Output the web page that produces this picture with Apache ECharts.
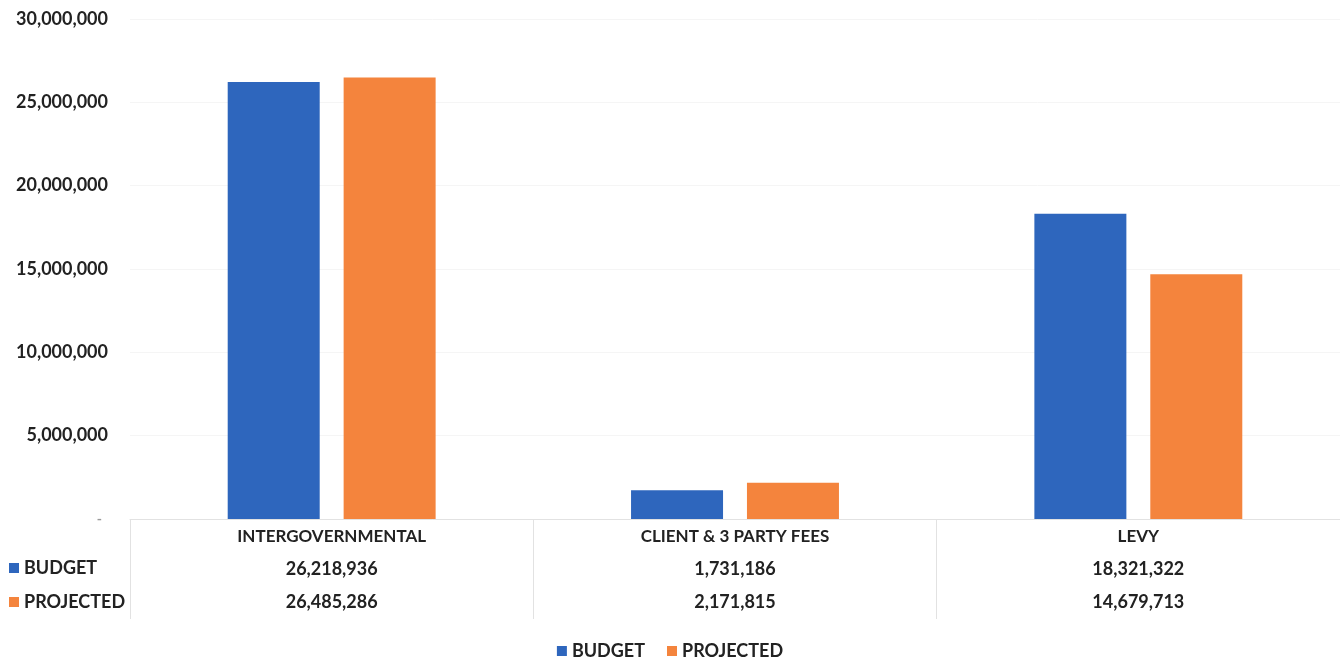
<!DOCTYPE html>
<html>
<head>
<meta charset="utf-8">
<script src="https://cdn.jsdelivr.net/npm/echarts@6/dist/echarts.min.js"></script>
<style>
  html, body { margin: 0; padding: 0; background: #fff; }
  #chart { width: 1340px; height: 660px; }
</style>
</head>
<body>
<div id="chart"></div>
<script>
const categories = ["INTERGOVERNMENTAL", "CLIENT & 3 PARTY FEES", "LEVY"];
const budget = [26218936, 1731186, 18321322];
const projected = [26485286, 2171815, 14679713];

const fmt = v => v.toLocaleString("en-US");
const textColor = "#222";
const font = "Lato";

const chart = echarts.init(document.getElementById("chart"));

chart.setOption({
  animation: false,
  textStyle: { fontFamily: font },
  grid: { left: 130, right: 0, top: 19, bottom: 141 },
  legend: [
    {
      data: ["BUDGET", "PROJECTED"],
      left: "center",
      top: 637,
      icon: "rect",
      itemWidth: 10,
      itemHeight: 10,
      itemGap: 22,
      selectedMode: false,
      textStyle: { fontSize: 18, fontWeight: "bold", color: textColor, fontFamily: font }
    },
    {
      data: ["BUDGET", "PROJECTED"],
      orient: "vertical",
      left: 4,
      top: 553,
      icon: "rect",
      itemWidth: 10,
      itemHeight: 10,
      itemGap: 14,
      selectedMode: false,
      textStyle: { fontSize: 18, fontWeight: "bold", color: textColor, fontFamily: font, lineHeight: 20 }
    }
  ],
  xAxis: {
    type: "category",
    data: categories,
    axisLine: { lineStyle: { color: "#e2e2e2" } },
    axisTick: { show: true, length: 100, lineStyle: { color: "#e2e2e2" } },
    axisLabel: {
      margin: 1,
      interval: 0,
      formatter: (value, i) =>
        "{c|" + value + "}\n{v|" + fmt(budget[i]) + "}\n{v|" + fmt(projected[i]) + "}",
      rich: {
        c: { fontSize: 17, fontWeight: "bold", color: textColor, lineHeight: 33, fontFamily: font },
        v: { fontSize: 18, fontWeight: "bold", color: textColor, lineHeight: 33, fontFamily: font }
      }
    }
  },
  yAxis: {
    type: "value",
    min: 0,
    max: 30000000,
    interval: 5000000,
    axisLine: { show: false },
    axisTick: { show: false },
    axisLabel: {
      margin: 22,
      formatter: v => (v === 0 ? "{d|-}" : fmt(v)),
      fontSize: 18,
      fontWeight: "bold",
      color: textColor,
      rich: { d: { color: "#999", fontSize: 14, padding: [0, 6, 0, 0] } }
    },
    splitLine: { lineStyle: { color: "#f5f5f5" } }
  },
  series: [
    {
      name: "BUDGET",
      type: "bar",
      data: budget,
      barWidth: 92,
      barGap: "26%",
      itemStyle: { color: "#2e66bd" }
    },
    {
      name: "PROJECTED",
      type: "bar",
      data: projected,
      barWidth: 92,
      itemStyle: { color: "#f4843d" }
    }
  ]
});
</script>
</body>
</html>
